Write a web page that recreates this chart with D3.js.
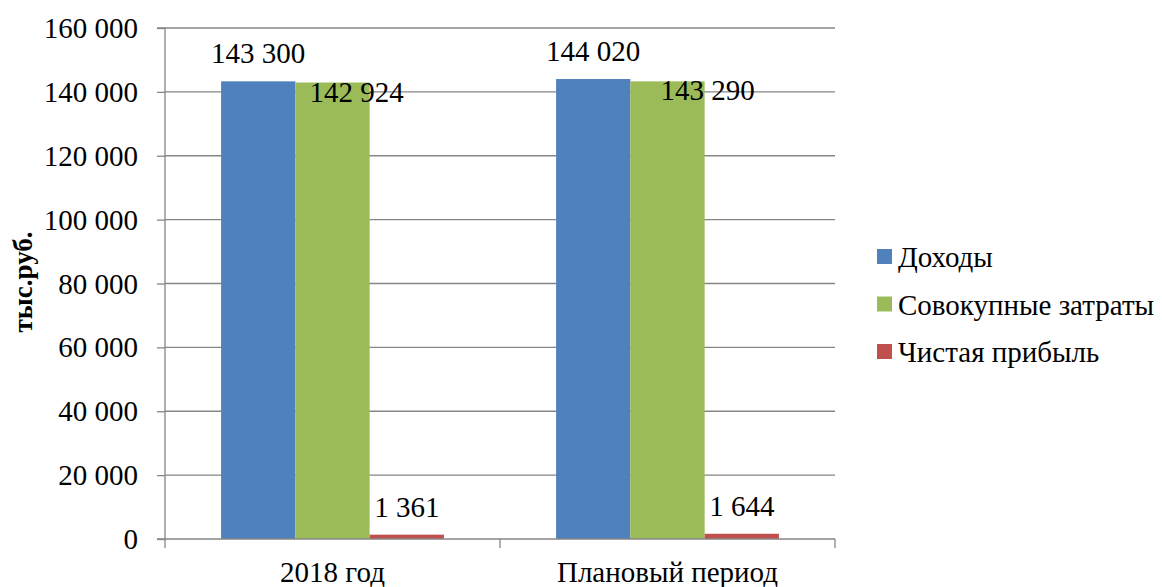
<!DOCTYPE html>
<html>
<head>
<meta charset="utf-8">
<script src="https://cdn.jsdelivr.net/npm/d3@7"></script>
<style>
  html, body { margin: 0; padding: 0; background: #fff; }
  svg text { font-family: "Liberation Serif", "Times New Roman", "DejaVu Serif", serif !important; }
</style>
</head>
<body>
<svg id="chart" width="1162" height="587"></svg>
<script>
// Categories and series
const categories = ["2018 год", "Плановый период"];
const seriesNames = ["Доходы", "Совокупные затраты", "Чистая прибыль"];
const incomeValues = [143300, 144020];
const costValues = [142924, 143290];
const profitValues = [1361, 1644];
const yTicks = [0, 20000, 40000, 60000, 80000, 100000, 120000, 140000, 160000];

const seriesValues = [incomeValues, costValues, profitValues];
const colors = ["#4F81BD", "#9BBB59", "#C0504D"];

// Label nudges (px) per series, per category, relative to the default spot above the bar
const labelShift = [
  [{dx: 0, dy: 0}, {dx: 0, dy: 0}],
  [{dx: 24, dy: 37}, {dx: 40, dy: 37}],
  [{dx: 0, dy: 0}, {dx: 0, dy: 0}]
];

const svg = d3.select("#chart");
const plotLeft = 165, plotRight = 835, plotTop = 28, plotBottom = 539;
const fontSize = 29;

const x = d3.scaleBand().domain(categories).range([plotLeft, plotRight]).paddingInner(0).paddingOuter(0);
const inner = d3.scaleBand().domain(d3.range(seriesNames.length))
  .range([0, x.bandwidth()]).paddingOuter(0.755).paddingInner(0);
const y = d3.scaleLinear().domain([0, 160000]).range([plotBottom, plotTop]);

const fmt = v => d3.format(",")(v).replace(/,/g, " ");
const gridColor = "#868686";

// Horizontal gridlines
svg.append("g").selectAll("line").data(yTicks.filter(t => t > 0)).join("line")
  .attr("x1", plotLeft).attr("x2", plotRight)
  .attr("y1", d => y(d)).attr("y2", d => y(d))
  .attr("stroke", gridColor).attr("stroke-width", 1.3);

// Bars
categories.forEach((cat, ci) => {
  seriesValues.forEach((vals, si) => {
    const x0 = x(cat) + inner(si);
    svg.append("rect")
      .attr("x", x0).attr("width", inner.bandwidth())
      .attr("y", y(vals[ci])).attr("height", y(0) - y(vals[ci]))
      .attr("fill", colors[si]);
  });
});

// Y axis
const yAxis = d3.axisLeft(y).tickValues(yTicks).tickSize(8).tickFormat(fmt);
const gy = svg.append("g").attr("transform", `translate(${plotLeft},0)`).call(yAxis);
gy.select(".domain").attr("stroke", gridColor).attr("stroke-width", 1.3).attr("d", `M-8,${plotTop}H0V${plotBottom}H-8`);
gy.selectAll(".tick line").attr("stroke", gridColor).attr("stroke-width", 1.3);
gy.selectAll(".tick text").attr("x", -27).attr("dy", "0.33em")
  .attr("font-size", fontSize).attr("fill", "#000");

// X axis
const gx = svg.append("g");
gx.append("line").attr("x1", plotLeft).attr("x2", plotRight).attr("y1", plotBottom).attr("y2", plotBottom)
  .attr("stroke", gridColor).attr("stroke-width", 1.3);
const xBounds = [plotLeft].concat(categories.map(c => x(c) + x.bandwidth()));
gx.selectAll("line.tk").data(xBounds).join("line").attr("class", "tk")
  .attr("x1", d => d).attr("x2", d => d).attr("y1", plotBottom).attr("y2", plotBottom + 9)
  .attr("stroke", gridColor).attr("stroke-width", 1.3);
gx.selectAll("text").data(categories).join("text")
  .attr("x", d => x(d) + x.bandwidth() / 2).attr("y", 582)
  .attr("text-anchor", "middle").attr("font-size", fontSize).attr("fill", "#000")
  .text(d => d);

// Value labels
categories.forEach((cat, ci) => {
  seriesValues.forEach((vals, si) => {
    const cx = x(cat) + inner(si) + inner.bandwidth() / 2;
    const s = labelShift[si][ci];
    svg.append("text")
      .attr("x", cx + s.dx).attr("y", y(vals[ci]) - 18 + s.dy)
      .attr("text-anchor", "middle").attr("font-size", fontSize).attr("fill", "#000")
      .text(fmt(vals[ci]));
  });
});

// Y axis title
svg.append("text")
  .attr("transform", "translate(32,282) rotate(-90)")
  .attr("text-anchor", "middle").attr("font-size", 27).attr("font-weight", "bold")
  .attr("fill", "#000").text("тыс.руб.");

// Legend
const legend = svg.append("g").attr("transform", "translate(877,257)");
seriesNames.forEach((name, i) => {
  const g = legend.append("g").attr("transform", `translate(0,${i * 47.5})`);
  g.append("rect").attr("x", 0).attr("y", -8).attr("width", 15).attr("height", 15).attr("fill", colors[i]);
  g.append("text").attr("x", 21).attr("y", 10).attr("font-size", fontSize).attr("fill", "#000").text(name);
});
</script>
</body>
</html>
